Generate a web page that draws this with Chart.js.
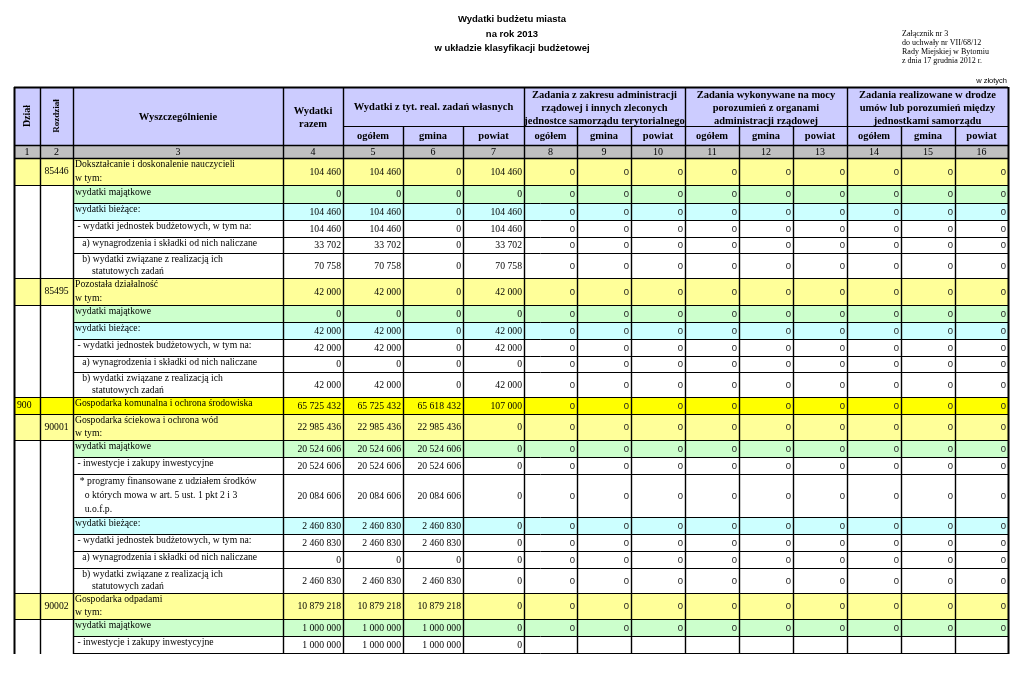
<!DOCTYPE html>
<html lang="pl">
<head>
<meta charset="utf-8">
<title>Wydatki budżetu miasta 2013</title>
<script src="https://cdn.jsdelivr.net/npm/chart.js@4.4.1/dist/chart.umd.min.js"></script>
<style>
  html, body { margin: 0; padding: 0; background: #fff; }
  #wrap { width: 1024px; height: 677px; }
</style>
</head>
<body>
<div id="wrap"><canvas id="budgetTable" width="1024" height="677"></canvas></div>
<script>
/* =========================
   PAGE TEXTS
========================= */
const titleLines = ["Wydatki budżetu miasta", "na rok 2013", "w układzie klasyfikacji budżetowej"];
const noteLines = ["Załącznik nr 3", "do uchwały nr VII/68/12", "Rady Miejskiej w Bytomiu", "z dnia 17 grudnia 2012 r."];
const unitLabel = "w złotych";

/* =========================
   HEADER TEXTS
========================= */
const fixedHeaders = ["Dział", "Rozdział", "Wyszczególnienie", "Wydatki\nrazem"];
const groupHeaders = [
    "Wydatki z tyt. real. zadań własnych",
    "Zadania z zakresu administracji\nrządowej i innych zleconych\njednostce samorządu terytorialnego",
    "Zadania wykonywane na mocy\nporozumień z organami\nadministracji rządowej",
    "Zadania realizowane w drodze\numów lub porozumień między\njednostkami samorządu"
];
const subHeaders = ["ogółem", "gmina", "powiat"];
const colNumbers = ["1","2","3","4","5","6","7","8","9","10","11","12","13","14","15","16"];

/* =========================
   ROWS
========================= */
const dzial = ["","","","","","", "","","","","","", "900", "","","","","","","","", "","",""];
const rozdzial = ["85446","","","","","", "85495","","","","","", "", "90001","","","","","","","", "90002","",""];

// kind of row: head of rozdział, dział, wydatki majątkowe, bieżące, plain
const rowKind = [
    "rozdzial","majatkowe","biezace","plain","plain","plain",
    "rozdzial","majatkowe","biezace","plain","plain","plain",
    "dzial",
    "rozdzial","majatkowe","plain","plain","biezace","plain","plain","plain",
    "rozdzial","majatkowe","plain"
];

const rowLabels = [
    "Dokształcanie i doskonalenie nauczycieli\nw tym:",
    "wydatki majątkowe",
    "wydatki bieżące:",
    " - wydatki jednostek budżetowych, w tym na:",
    "   a) wynagrodzenia i składki od nich naliczane",
    "   b) wydatki związane z realizacją ich\n       statutowych zadań",
    "Pozostała działalność\nw tym:",
    "wydatki majątkowe",
    "wydatki bieżące:",
    " - wydatki jednostek budżetowych, w tym na:",
    "   a) wynagrodzenia i składki od nich naliczane",
    "   b) wydatki związane z realizacją ich\n       statutowych zadań",
    "Gospodarka komunalna i ochrona środowiska",
    "Gospodarka ściekowa i ochrona wód\nw tym:",
    "wydatki majątkowe",
    " - inwestycje i zakupy inwestycyjne",
    "  * programy finansowane z udziałem środków\n    o których mowa w art. 5 ust. 1 pkt 2 i 3\n    u.o.f.p.",
    "wydatki bieżące:",
    " - wydatki jednostek budżetowych, w tym na:",
    "   a) wynagrodzenia i składki od nich naliczane",
    "   b) wydatki związane z realizacją ich\n       statutowych zadań",
    "Gospodarka odpadami\nw tym:",
    "wydatki majątkowe",
    " - inwestycje i zakupy inwestycyjne"
];

/* =========================
   VALUES (zł)
========================= */
const razem  = [104460, 0, 104460, 104460, 33702, 70758, 42000, 0, 42000, 42000, 0, 42000, 65725432, 22985436, 20524606, 20524606, 20084606, 2460830, 2460830, 0, 2460830, 10879218, 1000000, 1000000];
const wlasneOgolem = [104460, 0, 104460, 104460, 33702, 70758, 42000, 0, 42000, 42000, 0, 42000, 65725432, 22985436, 20524606, 20524606, 20084606, 2460830, 2460830, 0, 2460830, 10879218, 1000000, 1000000];
const wlasneGmina  = [0, 0, 0, 0, 0, 0, 0, 0, 0, 0, 0, 0, 65618432, 22985436, 20524606, 20524606, 20084606, 2460830, 2460830, 0, 2460830, 10879218, 1000000, 1000000];
const wlasnePowiat = [104460, 0, 104460, 104460, 33702, 70758, 42000, 0, 42000, 42000, 0, 42000, 107000, 0, 0, 0, 0, 0, 0, 0, 0, 0, 0, 0];

const zlecOgolem = [0,0,0,0,0,0, 0,0,0,0,0,0, 0, 0,0,0,0,0,0,0,0, 0,0,null];
const zlecGmina  = [0,0,0,0,0,0, 0,0,0,0,0,0, 0, 0,0,0,0,0,0,0,0, 0,0,null];
const zlecPowiat = [0,0,0,0,0,0, 0,0,0,0,0,0, 0, 0,0,0,0,0,0,0,0, 0,0,null];
const porOgolem  = [0,0,0,0,0,0, 0,0,0,0,0,0, 0, 0,0,0,0,0,0,0,0, 0,0,null];
const porGmina   = [0,0,0,0,0,0, 0,0,0,0,0,0, 0, 0,0,0,0,0,0,0,0, 0,0,null];
const porPowiat  = [0,0,0,0,0,0, 0,0,0,0,0,0, 0, 0,0,0,0,0,0,0,0, 0,0,null];
const umOgolem   = [0,0,0,0,0,0, 0,0,0,0,0,0, 0, 0,0,0,0,0,0,0,0, 0,0,null];
const umGmina    = [0,0,0,0,0,0, 0,0,0,0,0,0, 0, 0,0,0,0,0,0,0,0, 0,0,null];
const umPowiat   = [0,0,0,0,0,0, 0,0,0,0,0,0, 0, 0,0,0,0,0,0,0,0, 0,0,null];

const valueCols = [razem, wlasneOgolem, wlasneGmina, wlasnePowiat,
    zlecOgolem, zlecGmina, zlecPowiat, porOgolem, porGmina, porPowiat,
    umOgolem, umGmina, umPowiat];

/* =========================
   LAYOUT (scale units)
========================= */
const colEdges = [14, 40, 73, 283, 343, 403, 463, 524, 577, 631, 685, 739, 793, 847, 901, 955, 1008];
const headTop = 87, groupBottom = 126, headBottom = 145, numBottom = 158;
const rowEdges = [158, 185, 203, 220, 237, 253, 278, 305, 322, 339, 356, 372, 397, 414, 440, 457, 474, 517, 534, 551, 568, 593, 619, 636, 653];

const colors = {
    header: "#ccccff",
    numbers: "#c0c0c0",
    rozdzial: "#ffff99",
    dzial: "#ffff00",
    majatkowe: "#ccffcc",
    biezace: "#ccffff",
    plain: "#ffffff"
};

const SERIF = '"Liberation Serif", "Times New Roman", serif';
const SANS = '"Liberation Sans", Arial, sans-serif';

/* =========================
   HELPERS
========================= */
function fmt(n) {
    if (n === null || n === undefined) return "";
    return String(n).replace(/\B(?=(\d{3})+(?!\d))/g, " ");
}

const isHead = k => k === "rozdzial" || k === "dzial";

/* =========================
   TABLE PLUGIN
========================= */
const tablePlugin = {
    id: "budgetTable",
    afterDraw(chart) {
        const ctx = chart.ctx;
        const X = v => chart.scales.x.getPixelForValue(v);
        const Y = v => chart.scales.y.getPixelForValue(v);

        const rect = (x0, y0, x1, y1, fill) => {
            ctx.fillStyle = fill;
            ctx.fillRect(X(x0), Y(y0), X(x1) - X(x0), Y(y1) - Y(y0));
        };
        const hline = (x0, x1, y, w) => {
            ctx.lineWidth = w || 1;
            ctx.beginPath();
            ctx.moveTo(X(x0), Math.round(Y(y)) + 0.5);
            ctx.lineTo(X(x1), Math.round(Y(y)) + 0.5);
            ctx.stroke();
        };
        const vline = (x, y0, y1, w) => {
            ctx.lineWidth = w || 1;
            ctx.beginPath();
            ctx.moveTo(Math.round(X(x)) + 0.5, Y(y0));
            ctx.lineTo(Math.round(X(x)) + 0.5, Y(y1));
            ctx.stroke();
        };

        ctx.save();
        ctx.fillStyle = "#fff";
        ctx.fillRect(0, 0, chart.width, chart.height);

        // page title
        ctx.fillStyle = "#000";
        ctx.textAlign = "center";
        ctx.textBaseline = "middle";
        ctx.font = "bold 9.5px " + SANS;
        [19, 34, 48].forEach((y, i) => ctx.fillText(titleLines[i], X(512), Y(y)));

        // resolution note
        ctx.textAlign = "left";
        ctx.font = "8px " + SERIF;
        noteLines.forEach((t, i) => ctx.fillText(t, X(902), Y(34 + i * 9)));

        ctx.textAlign = "right";
        ctx.font = "7.5px " + SANS;
        ctx.fillText(unitLabel, X(1007), Y(81));

        /* ---- backgrounds ---- */
        rect(colEdges[0], headTop, colEdges[16], headBottom, colors.header);
        rect(colEdges[0], headBottom, colEdges[16], numBottom, colors.numbers);

        rowKind.forEach((kind, i) => {
            const top = rowEdges[i], bottom = rowEdges[i + 1];
            const left = isHead(kind) ? colEdges[0] : colEdges[2];
            rect(left, top, colEdges[16], bottom, colors[kind]);
        });

        /* ---- header texts ---- */
        ctx.fillStyle = "#000";
        ctx.textAlign = "center";
        ctx.textBaseline = "middle";

        // rotated Dział / Rozdział
        [[0, 10], [1, 9]].forEach(([c, size]) => {
            ctx.save();
            ctx.translate(X((colEdges[c] + colEdges[c + 1]) / 2), Y((headTop + headBottom) / 2));
            ctx.rotate(-Math.PI / 2);
            ctx.font = "bold " + size + "px " + SERIF;
            ctx.fillText(fixedHeaders[c], 0, 0);
            ctx.restore();
        });

        ctx.font = "bold 10.5px " + SERIF;
        ctx.fillText(fixedHeaders[2], X((colEdges[2] + colEdges[3]) / 2), Y(117));
        fixedHeaders[3].split("\n").forEach((t, i) => {
            ctx.fillText(t, X((colEdges[3] + colEdges[4]) / 2), Y(111 + i * 13));
        });

        groupHeaders.forEach((g, gi) => {
            const x0 = colEdges[4 + gi * 3], x1 = colEdges[7 + gi * 3];
            const lines = g.split("\n");
            ctx.save();
            ctx.beginPath();
            ctx.rect(X(x0), Y(headTop), X(x1) - X(x0), Y(groupBottom) - Y(headTop));
            ctx.clip();
            ctx.font = "bold 10.5px " + SERIF;
            lines.forEach((t, i) => {
                const y = lines.length === 1 ? 107 : 95 + i * 13;
                ctx.fillText(t, X((x0 + x1) / 2), Y(y));
            });
            ctx.restore();
        });

        ctx.font = "bold 10.5px " + SERIF;
        for (let c = 4; c < 16; c++) {
            ctx.fillText(subHeaders[(c - 4) % 3], X((colEdges[c] + colEdges[c + 1]) / 2), Y(136));
        }

        ctx.font = "10px " + SERIF;
        colNumbers.forEach((n, c) => {
            ctx.fillText(n, X((colEdges[c] + colEdges[c + 1]) / 2), Y(152));
        });

        /* ---- body texts ---- */
        rowKind.forEach((kind, i) => {
            const top = rowEdges[i], bottom = rowEdges[i + 1];
            const mid = (top + bottom) / 2;
            ctx.fillStyle = "#000";
            ctx.textBaseline = "middle";
            ctx.font = "9.7px " + SERIF;

            if (dzial[i]) {
                ctx.textAlign = "left";
                ctx.fillText(dzial[i], X(colEdges[0] + 3), Y(mid));
            }
            if (rozdzial[i]) {
                ctx.textAlign = "center";
                ctx.fillText(rozdzial[i], X((colEdges[1] + colEdges[2]) / 2), Y(mid));
            }

            const lines = rowLabels[i].split("\n");
            const h = bottom - top;
            ctx.textAlign = "left";
            lines.forEach((t, k) => {
                const y = lines.length === 1 ? mid - 2 : top + h * (k + 0.5) / lines.length;
                ctx.fillText(t, X(colEdges[2] + 2), Y(y));
            });

            ctx.textAlign = "right";
            valueCols.forEach((col, c) => {
                const v = col[i];
                if (v === null) return;
                ctx.font = (c < 4 ? "9.7px " + SERIF : "9.5px " + SANS);
                ctx.fillStyle = c < 4 ? "#000" : "#222";
                ctx.fillText(fmt(v), X(colEdges[c + 4] - 2), Y(mid + 0.5));
            });
        });

        /* ---- grid lines ---- */
        ctx.strokeStyle = "#000";
        hline(colEdges[0], colEdges[16], headTop, 2);
        hline(colEdges[4], colEdges[16], groupBottom, 1);
        hline(colEdges[0], colEdges[16], headBottom, 1.5);
        hline(colEdges[0], colEdges[16], numBottom, 1.5);

        for (let i = 1; i < rowEdges.length; i++) {
            const y = rowEdges[i];
            const cur = rowKind[i - 1], next = rowKind[i];
            const full = isHead(cur) || (next && isHead(next));
            hline(full ? colEdges[0] : colEdges[2], colEdges[16], y, 1);
        }

        const lastY = rowEdges[rowEdges.length - 1];
        const innerGroup = [5, 6, 8, 9, 11, 12, 14, 15];
        colEdges.forEach((x, c) => {
            const y0 = innerGroup.includes(c) ? groupBottom : headTop;
            const outer = c === 0 || c === colEdges.length - 1;
            vline(x, y0, lastY + 1, outer ? 2 : 1.4);
        });

        ctx.restore();
    }
};

/* =========================
   CHART
========================= */
document.addEventListener("DOMContentLoaded", () => {
    const canvas = document.getElementById("budgetTable");
    new Chart(canvas.getContext("2d"), {
        type: "scatter",
        data: { datasets: [] },
        options: {
            responsive: false,
            animation: false,
            devicePixelRatio: 1,
            layout: { padding: 0 },
            plugins: { legend: { display: false }, tooltip: { enabled: false } },
            scales: {
                x: { type: "linear", min: 0, max: 1024, display: false },
                y: { type: "linear", min: 0, max: 677, reverse: true, display: false }
            }
        },
        plugins: [tablePlugin]
    });
});
</script>
</body>
</html>
